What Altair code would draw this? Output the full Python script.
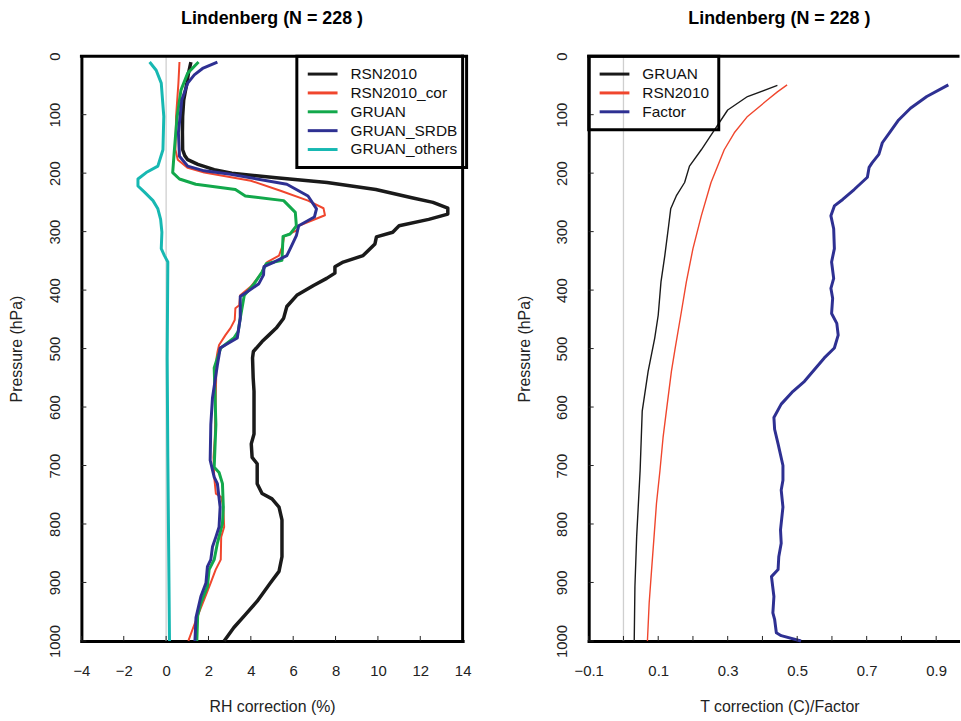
import altair as alt
import pandas as pd

# ---------------- Left panel: RH correction profiles ----------------
rh_series = ["RSN2010", "RSN2010_cor", "GRUAN", "GRUAN_SRDB", "GRUAN_others"]
rh_colors = ["#1a1a1a", "#f0462d", "#12a84b", "#2e3092", "#17b8b2"]
rh_widths = [3.5, 2.0, 3.0, 3.0, 3.0]

rsn_p = [10, 30, 46, 75, 103, 130, 160, 170, 177, 185, 194, 200, 208, 216, 228, 242, 250, 260, 270,
         279, 290, 295, 301, 309, 321, 341, 352, 360, 371, 380, 392, 409, 428, 448, 465, 477, 488, 505,
         516, 550, 573, 646, 663, 686, 697, 731, 748, 757, 771, 793, 856, 881, 901, 932, 957, 977, 1000]
rsn_v = [1.17, 1.05, 0.98, 0.83, 0.78, 0.77, 0.78, 0.88, 1.02, 1.5, 2.27, 3.1, 5.2, 7.6, 9.9, 11.6, 12.6,
         13.3, 13.3, 12.4, 11.0, 10.86, 10.7, 9.93, 9.86, 9.3, 8.36, 7.97, 7.97, 7.58, 6.96, 6.17, 5.7,
         5.55, 5.2, 4.85, 4.53, 4.12, 4.08, 4.11, 4.15, 4.15, 4.02, 4.06, 4.3, 4.3, 4.53, 5.0, 5.33, 5.47,
         5.47, 5.33, 4.92, 4.3, 3.69, 3.2, 2.74]

cor_p = [10, 46, 103, 160, 177, 191, 199, 213, 230, 247, 260, 272, 290, 298, 308, 324, 341, 352, 360,
         371, 394, 409, 426, 431, 451, 465, 477, 494, 505, 516, 573, 652, 686, 720, 748, 754, 771, 805,
         822, 861, 878, 901, 929, 957, 980, 1000]
cor_v = [0.63, 0.58, 0.47, 0.44, 0.55, 1.02, 1.8, 4.0, 5.4, 6.7, 7.43, 7.5, 6.26, 6.17, 5.57, 5.5, 5.33,
         4.77, 4.62, 4.5, 4.0, 3.5, 3.45, 3.27, 3.24, 3.04, 2.8, 2.5, 2.43, 2.38, 2.35, 2.3, 2.24, 2.27,
         2.35, 2.6, 2.7, 2.74, 2.6, 2.58, 2.34, 2.1, 1.8, 1.49, 1.25, 1.05]

gru_p = [10, 29, 58, 103, 160, 199, 210, 219, 228, 239, 247, 267, 290, 304, 308, 349, 355, 369, 389,
         409, 448, 471, 482, 499, 516, 533, 630, 703, 712, 731, 771, 799, 833, 861, 878, 907, 935, 957,
         1000]
gru_v = [1.53, 1.02, 0.7, 0.52, 0.39, 0.31, 0.63, 1.4, 3.27, 3.74, 5.55, 6.1, 6.15, 5.86, 5.52, 5.47,
         4.73, 4.53, 4.16, 3.69, 3.5, 3.4, 3.2, 2.58, 2.42, 2.27, 2.35, 2.27, 2.5, 2.66, 2.7, 2.66, 2.42,
         2.27, 2.03, 1.95, 1.64, 1.49, 1.45]

srdb_p = [10, 21, 32, 46, 75, 131, 171, 188, 196, 202, 219, 239, 261, 275, 290, 307, 329, 341, 352,
          360, 374, 389, 403, 411, 448, 482, 499, 511, 528, 584, 630, 691, 720, 731, 771, 805, 822, 839,
          861, 873, 901, 924, 960, 1000]
srdb_v = [2.42, 1.72, 1.33, 1.02, 0.74, 0.58, 0.63, 1.02, 1.8, 3.05, 5.7, 6.7, 7.1, 7.0, 6.26, 6.15,
          5.86, 5.7, 5.1, 4.62, 4.6, 4.38, 3.83, 3.5, 3.5, 3.36, 2.55, 2.5, 2.42, 2.19, 2.11, 2.08, 2.27,
          2.42, 2.55, 2.5, 2.35, 2.19, 2.11, 1.95, 1.88, 1.64, 1.41, 1.36]

oth_p = [10, 24, 46, 103, 160, 188, 199, 210, 222, 233, 247, 261, 279, 301, 329, 341, 352, 516, 686, 1000]
oth_v = [-0.78, -0.47, -0.23, -0.11, -0.15, -0.39, -0.94, -1.33, -1.33, -1.01, -0.62, -0.39, -0.26,
         -0.2, -0.23, -0.08, 0.08, 0.05, 0.08, 0.16]

# ---------------- Right panel: T correction / factor ----------------
t_series = ["GRUAN", "RSN2010", "Factor"]
t_colors = ["#1a1a1a", "#f0462d", "#2e3092"]
t_widths = [1.4, 1.4, 3.0]

tg_p = [50, 69, 92, 126, 160, 188, 216, 239, 261, 290, 341, 386, 443, 482, 539, 607, 708, 822, 907, 1000]
tg_v = [0.443, 0.357, 0.3, 0.262, 0.224, 0.19, 0.176, 0.152, 0.136, 0.13, 0.119, 0.108, 0.1, 0.09,
        0.071, 0.054, 0.048, 0.038, 0.033, 0.031]

tr_p = [49, 61, 75, 103, 131, 160, 216, 273, 329, 386, 443, 499, 539, 595, 652, 709, 765, 822, 878,
        935, 1000]
tr_v = [0.471, 0.443, 0.414, 0.357, 0.319, 0.29, 0.252, 0.224, 0.2, 0.181, 0.165, 0.149, 0.138, 0.126,
        0.114, 0.105, 0.095, 0.088, 0.081, 0.074, 0.069]

tf_p = [49, 69, 89, 109, 128, 148, 168, 182, 190, 207, 228, 245, 256, 273, 295, 329, 352, 380, 397,
        414, 440, 457, 477, 499, 516, 556, 573, 595, 618, 638, 663, 700, 725, 742, 771, 810, 833, 856,
        878, 890, 924, 952, 963, 986, 991, 1000]
tf_v = [0.935, 0.873, 0.826, 0.792, 0.769, 0.745, 0.735, 0.716, 0.707, 0.702, 0.664, 0.631, 0.607,
        0.597, 0.605, 0.607, 0.599, 0.605, 0.597, 0.602, 0.599, 0.614, 0.618, 0.607, 0.578, 0.521,
        0.488, 0.454, 0.433, 0.435, 0.445, 0.459, 0.459, 0.454, 0.459, 0.452, 0.454, 0.447, 0.445,
        0.426, 0.433, 0.43, 0.435, 0.44, 0.454, 0.511]

# axis tick values
p_ticks = [0, 100, 200, 300, 400, 500, 600, 700, 800, 900, 1000]
rh_ticks = [-4, -2, 0, 2, 4, 6, 8, 10, 12, 14]
t_label_ticks = [-0.1, 0.1, 0.3, 0.5, 0.7, 0.9]
t_minor_ticks = [-0.1, 0.0, 0.1, 0.2, 0.3, 0.4, 0.5, 0.6, 0.7, 0.8, 0.9]

title_text = "Lindenberg (N = 228 )"

H = 589
WL = 384
WR = 372
FONT = "Liberation Sans"

y_scale = alt.Scale(domain=[0, 1000], reverse=True, nice=False, zero=False)
y_axis = alt.Axis(values=p_ticks, format="d", title="Pressure (hPa)", labelAngle=270,
                  labelAlign="center", labelBaseline="alphabetic", labelPadding=22, titlePadding=23,
                  labelFlush=False)


def legend(placement):
    if placement == "left":
        extra = dict(orient="none", legendX=217, legendY=0)
    else:
        extra = dict(orient="top-left", offset=0)
    return alt.Legend(title=None, symbolType="M-2,0H2", symbolSize=225,
                      symbolStrokeWidth=3, labelFontSize=15.5, labelFont=FONT, labelColor="#111",
                      labelOffset=19, symbolOffset=8, padding=9, rowPadding=1,
                      strokeColor="black", **extra)


def panel(series, colors, widths, ps, vs, xdom, xvals, xfmt, xtitle, minor, width, leg_place,
          right_frame, title_dx, xtitle_x):
    xs = alt.Scale(domain=xdom, nice=False, zero=False)
    cs = alt.Scale(domain=series, range=colors)
    x_axis = alt.Axis(values=xvals, format=xfmt, title=xtitle, labelPadding=23, titlePadding=20,
                      titleX=xtitle_x, labelFlush=False)
    zero = alt.Chart(pd.DataFrame({"v": [0]})).mark_rule(color="#cfcfcf", strokeWidth=1.3).encode(
        x=alt.X("v:Q", scale=xs, axis=x_axis))
    layers = [zero]
    for s, w, pp, vv in zip(series, widths, ps, vs):
        df = pd.DataFrame({"series": s, "p": pp, "v": vv})
        layers.append(
            alt.Chart(df).mark_line(strokeWidth=w, strokeJoin="round").encode(
                x=alt.X("v:Q", scale=xs, axis=x_axis),
                y=alt.Y("p:Q", scale=y_scale, axis=y_axis),
                color=alt.Color("series:N", scale=cs, legend=legend(leg_place)),
                order=alt.Order("p:Q"),
            )
        )
    xt = alt.Chart(pd.DataFrame({"v": minor})).mark_rule(color="#222", strokeWidth=1).encode(
        x=alt.X("v:Q", scale=xs, axis=x_axis), y=alt.value(H), y2=alt.value(H - 5))
    yt = alt.Chart(pd.DataFrame({"p": p_ticks})).mark_rule(color="#222", strokeWidth=1).encode(
        y=alt.Y("p:Q", scale=y_scale, axis=y_axis), x=alt.value(0), x2=alt.value(5))
    one = pd.DataFrame({"a": [0]})
    top = alt.Chart(one).mark_rule(color="black", strokeWidth=3, strokeCap="square").encode(
        x=alt.value(0), x2=alt.value(width), y=alt.value(0))
    layers += [xt, yt, top]
    if right_frame:
        layers.append(alt.Chart(one).mark_rule(color="black", strokeWidth=3, strokeCap="square").encode(
            x=alt.value(width), y=alt.value(0), y2=alt.value(H)))
    return alt.layer(*layers).properties(
        width=width, height=H,
        title=alt.TitleParams(title_text, fontSize=18, fontWeight="bold", font=FONT, color="black",
                              anchor="middle", offset=24, dx=title_dx))


left = panel(rh_series, rh_colors, rh_widths, [rsn_p, cor_p, gru_p, srdb_p, oth_p],
             [rsn_v, cor_v, gru_v, srdb_v, oth_v], [-4, 14], rh_ticks, "d", "RH correction (%)",
             rh_ticks, WL, "left", True, 0, WL / 2)
right = panel(t_series, t_colors, t_widths, [tg_p, tr_p, tf_p], [tg_v, tr_v, tf_v],
              [-0.1, -0.1 + WR / 350.0], t_label_ticks, ".1f", "T correction (C)/Factor",
              t_minor_ticks, WR, "right", False, 6, 192)

chart = alt.hconcat(left, right, spacing=45).resolve_scale(color="independent").properties(
    padding={"left": 9, "top": 7, "right": 0, "bottom": 0}
).configure(font=FONT).configure_view(stroke=None).configure_axis(
    grid=False, ticks=False, tickSize=0, domainColor="black", domainWidth=3, domainCap="square",
    labelFont=FONT, labelFontSize=15, labelColor="#222", titleFont=FONT, titleFontSize=16,
    titleFontWeight="normal", titleColor="#222"
).configure_legend(strokeWidth=3)

chart.save("out.html", embed_options={"renderer": "svg", "actions": False})
